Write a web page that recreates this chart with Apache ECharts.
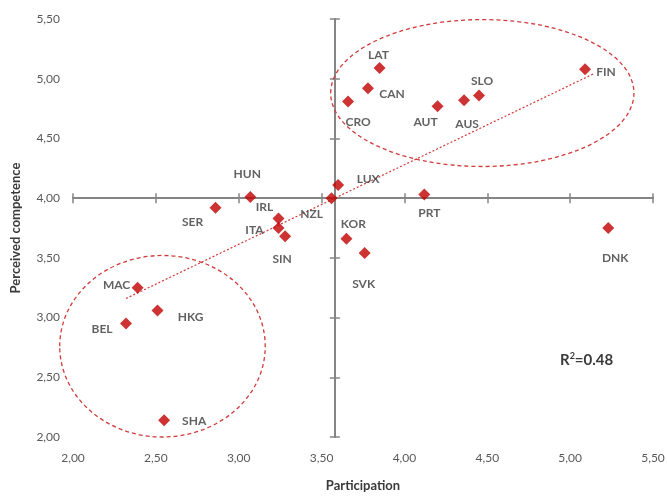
<!DOCTYPE html>
<html lang="en">
<head>
    <meta charset="utf-8">
    <title>Participation vs perceived competence</title>
    <script src="https://cdn.jsdelivr.net/npm/echarts@6/dist/echarts.min.js"></script>
    <style>
        html, body { margin: 0; padding: 0; background: #fff; }
        #chart { width: 667px; height: 496px; }
    </style>
</head>
<body>
<div id="chart"></div>

<script>
    // countries and their values
    var countries = ['HUN', 'SER', 'IRL', 'ITA', 'SIN', 'NZL', 'LUX', 'KOR', 'SVK', 'PRT', 'DNK',
                     'LAT', 'CAN', 'CRO', 'AUT', 'AUS', 'SLO', 'FIN', 'MAC', 'HKG', 'BEL', 'SHA'];
    var participation = [3.07, 2.86, 3.24, 3.24, 3.28, 3.56, 3.60, 3.65, 3.76, 4.12, 5.23,
                         3.85, 3.78, 3.66, 4.20, 4.36, 4.45, 5.09, 2.39, 2.51, 2.32, 2.55];
    var competence = [4.01, 3.92, 3.83, 3.75, 3.68, 4.00, 4.11, 3.66, 3.54, 4.03, 3.75,
                      5.09, 4.92, 4.81, 4.77, 4.82, 4.86, 5.08, 3.25, 3.06, 2.95, 2.14];

    var axisTicks = [2.0, 2.5, 3.0, 3.5, 4.0, 4.5, 5.0, 5.5];
    var crossX = 3.58, crossY = 4.0;

    // trend line end points
    var trendX = [2.32, 5.14];
    var trendY = [3.16, 5.04];

    // dashed ellipses: centre x, centre y, radius x, radius y (data units)
    var ellipseCx = [4.47, 2.54];
    var ellipseCy = [4.88, 2.76];
    var ellipseRx = [0.915, 0.62];
    var ellipseRy = [0.615, 0.76];

    // label offsets (px) from each diamond
    var labelOffset = {
        HUN: [-3, -23], SER: [-23, 14], IRL: [-14, -11], ITA: [-24, 2], SIN: [-3, 23],
        NZL: [-20, 16], LUX: [30, -6], KOR: [7, -15], SVK: [-1, 31], PRT: [5, 19],
        DNK: [7, 30], LAT: [-1, -13], CAN: [24, 6], CRO: [10, 21], AUT: [-12, 16],
        AUS: [3, 24], SLO: [3, -14], FIN: [21, 3], MAC: [-21, -3], HKG: [33, 7],
        BEL: [-24, 6], SHA: [30, 1]
    };

    var W = 667, H = 496;
    var grid = { left: 73, right: 14, top: 19, bottom: 59, outerBoundsMode: 'none', containLabel: false };
    var xMin = axisTicks[0], xMax = axisTicks[axisTicks.length - 1];
    var plotW = W - grid.left - grid.right, plotH = H - grid.top - grid.bottom;
    var offX = -(crossY - xMin) / (xMax - xMin) * plotH;
    var offY = -(crossX - xMin) / (xMax - xMin) * plotW;

    var red = '#c00000', gray = '#858585', txt = '#3a3a3a';
    var font = 'Lato, "Open Sans", sans-serif';

    function fmt(v) { return v.toFixed(2).replace('.', ','); }

    var points = countries.map(function (c, i) {
        return {
            name: c,
            value: [participation[i], competence[i]],
            label: { offset: labelOffset[c] }
        };
    });

    var ellipses = ellipseCx.map(function (cx, i) {
        return [cx, ellipseCy[i], ellipseRx[i], ellipseRy[i]];
    });

    function baseAxis(extra) {
        var a = {
            type: 'value', min: xMin, max: xMax, interval: 0.5,
            splitLine: { show: false },
            axisLine: { show: false },
            axisTick: { show: false },
            axisLabel: { show: false }
        };
        for (var k in extra) a[k] = extra[k];
        return a;
    }

    var lineAxis = {
        axisLine: { show: true, lineStyle: { color: gray, width: 2 } },
        axisTick: { show: true, length: 5, lineStyle: { color: gray, width: 1.5 } }
    };
    var lineAxisIn = {
        axisLine: { show: true, lineStyle: { color: gray, width: 2 } },
        axisTick: { show: true, inside: true, length: 5, lineStyle: { color: gray, width: 1.5 } }
    };
    function merge(a, b) { var o = {}; for (var k in a) o[k] = a[k]; for (var j in b) o[j] = b[j]; return o; }

    var chart = echarts.init(document.getElementById('chart'), null, { renderer: 'canvas' });
    chart.setOption({
        animation: false,
        backgroundColor: '#fff',
        grid: grid,
        xAxis: [
            baseAxis({
                position: 'bottom',
                name: 'Participation', nameLocation: 'middle', nameGap: 42,
                nameTextStyle: { fontFamily: font, fontWeight: 'bold', fontSize: 13, color: txt },
                axisLabel: { show: true, margin: 15, formatter: fmt, fontFamily: font, fontSize: 12, color: '#595959' }
            }),
            baseAxis(merge({ position: 'bottom', offset: offX }, lineAxis)),
            baseAxis(merge({ position: 'bottom', offset: offX }, lineAxisIn))
        ],
        yAxis: [
            baseAxis({
                position: 'left',
                name: 'Perceived competence', nameLocation: 'middle', nameGap: 51,
                nameTextStyle: { fontFamily: font, fontWeight: 'bold', fontSize: 13, color: txt },
                axisLabel: { show: true, margin: 13, formatter: fmt, fontFamily: font, fontSize: 12, color: '#595959' }
            }),
            baseAxis(merge({ position: 'left', offset: offY }, lineAxis)),
            baseAxis(merge({ position: 'left', offset: offY }, lineAxisIn))
        ],
        graphic: [{
            type: 'text', left: 560, top: 352,
            style: {
                text: '{b|R}{s|2}{b|=0.48}',
                rich: {
                    b: { fontFamily: font, fontSize: 15, fontWeight: 'bold', fill: txt, verticalAlign: 'bottom' },
                    s: { fontFamily: font, fontSize: 9, fontWeight: 'bold', fill: txt, verticalAlign: 'top', padding: [0, 0, 7, 0] }
                }
            }
        }],
        series: [
            {
                type: 'custom',
                silent: true,
                clip: false,
                data: ellipses,
                encode: { x: 0, y: 1 },
                renderItem: function (params, api) {
                    var c = api.coord([api.value(0), api.value(1)]);
                    var s = api.size([api.value(2), api.value(3)]);
                    return {
                        type: 'ellipse',
                        shape: { cx: c[0], cy: c[1], rx: s[0], ry: s[1] },
                        style: { fill: 'none', stroke: '#d23a3a', lineWidth: 1.3, lineDash: [4, 3] }
                    };
                },
                z: 1
            },
            {
                type: 'line',
                silent: true,
                symbol: 'none',
                data: trendX.map(function (x, i) { return [x, trendY[i]]; }),
                lineStyle: { color: '#d23a3a', width: 1.2, type: [2, 2] },
                z: 2
            },
            {
                type: 'scatter',
                symbol: 'diamond',
                symbolSize: 12,
                itemStyle: { color: red },
                data: points,
                label: {
                    show: true,
                    position: 'inside',
                    formatter: '{b}',
                    fontFamily: font,
                    fontSize: 12,
                    fontWeight: 'bold',
                    color: txt,
                    align: 'center',
                    verticalAlign: 'middle'
                },
                z: 5
            }
        ]
    });
</script>
</body>
</html>
